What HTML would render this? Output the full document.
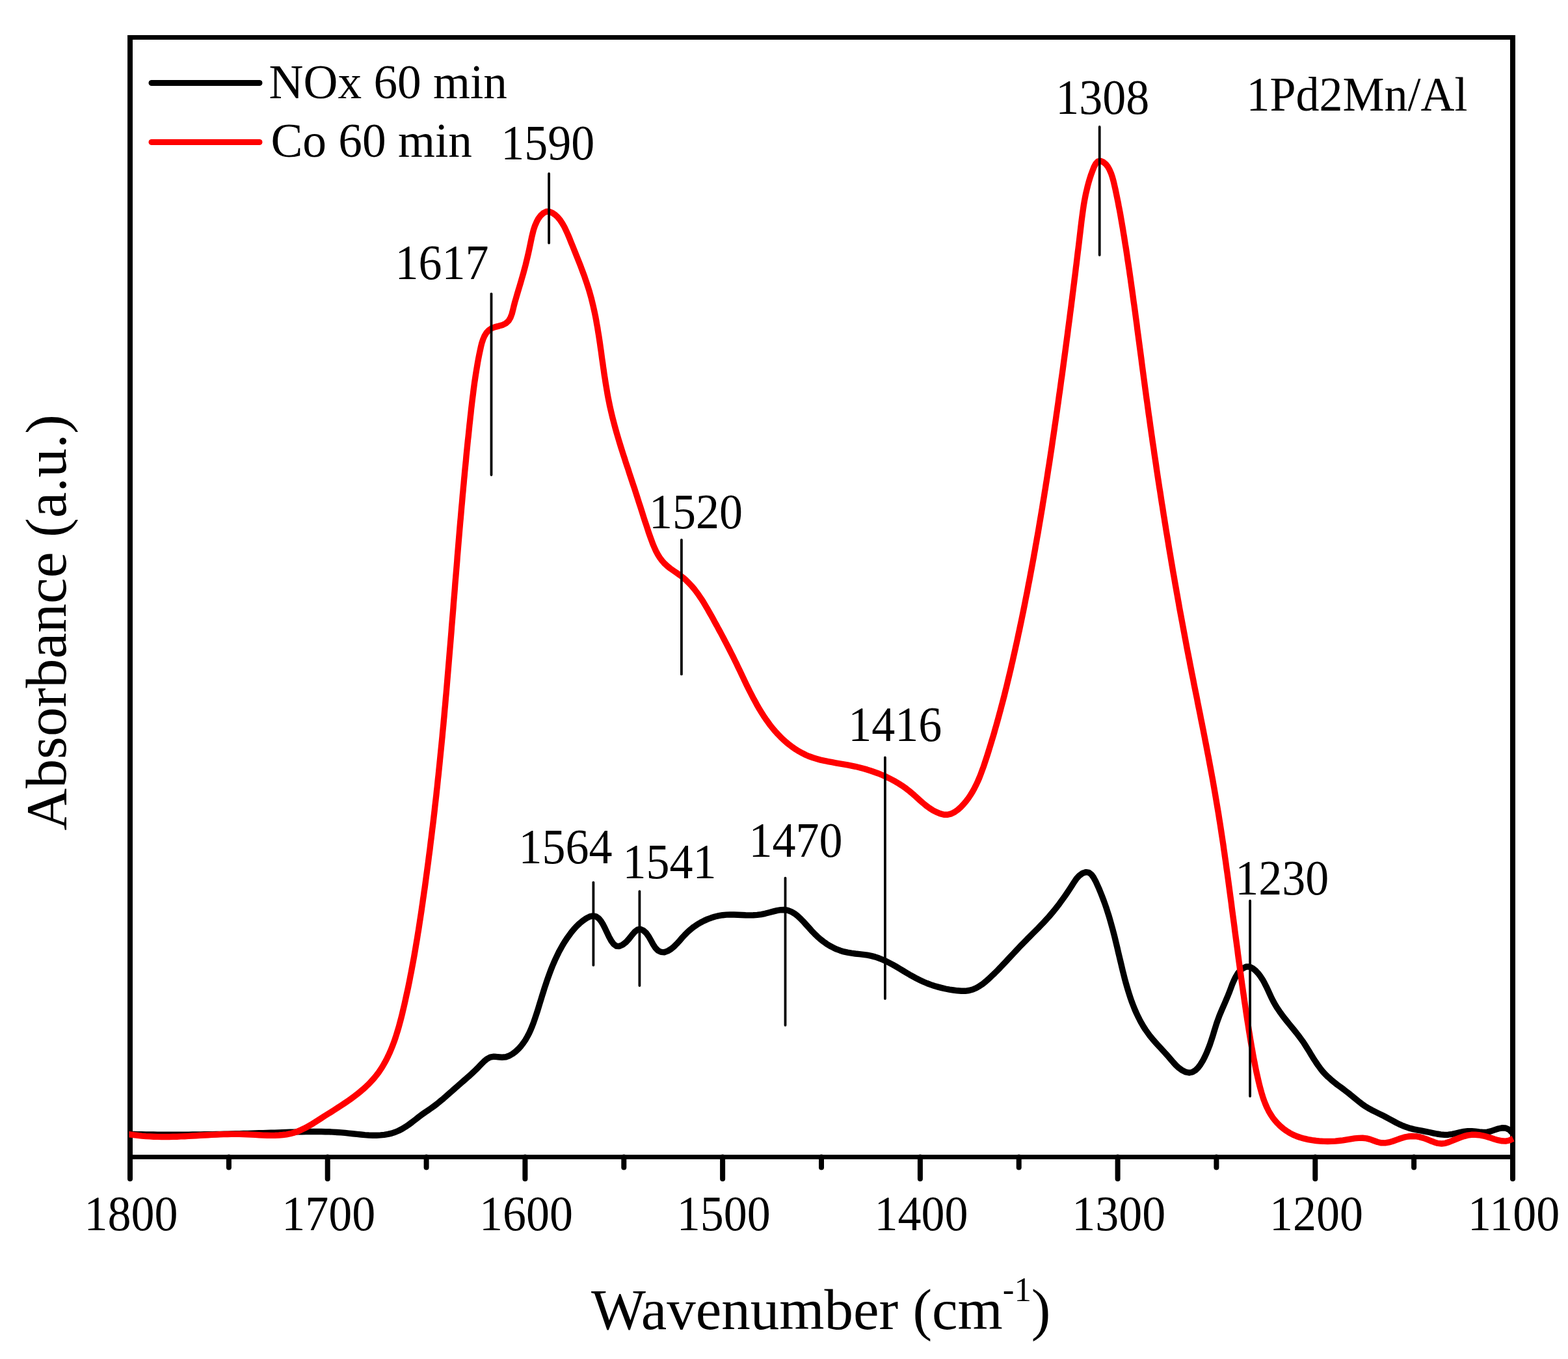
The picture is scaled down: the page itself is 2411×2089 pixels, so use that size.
<!DOCTYPE html>
<html><head><meta charset="utf-8"><title>Absorbance vs Wavenumber</title>
<style>html,body{margin:0;padding:0;background:#fff;overflow:hidden}svg{display:block}</style></head>
<body><svg width="2411" height="2089" viewBox="0 0 2411 2089">
<rect x="0" y="0" width="2411" height="2089" fill="#fff"/>
<g stroke="#000" stroke-width="8" stroke-linecap="round"><line x1="200.0" y1="1778.5" x2="200.0" y2="1812"/><line x1="351.9" y1="1778.5" x2="351.9" y2="1794.5"/><line x1="503.7" y1="1778.5" x2="503.7" y2="1812"/><line x1="655.6" y1="1778.5" x2="655.6" y2="1794.5"/><line x1="807.4" y1="1778.5" x2="807.4" y2="1812"/><line x1="959.3" y1="1778.5" x2="959.3" y2="1794.5"/><line x1="1111.1" y1="1778.5" x2="1111.1" y2="1812"/><line x1="1263.0" y1="1778.5" x2="1263.0" y2="1794.5"/><line x1="1414.9" y1="1778.5" x2="1414.9" y2="1812"/><line x1="1566.7" y1="1778.5" x2="1566.7" y2="1794.5"/><line x1="1718.6" y1="1778.5" x2="1718.6" y2="1812"/><line x1="1870.4" y1="1778.5" x2="1870.4" y2="1794.5"/><line x1="2022.3" y1="1778.5" x2="2022.3" y2="1812"/><line x1="2174.1" y1="1778.5" x2="2174.1" y2="1794.5"/><line x1="2326.0" y1="1778.5" x2="2326.0" y2="1812"/></g>
<path d="M200,54 V1778.5 M2326,54 V1778.5" fill="none" stroke="#000" stroke-width="8"/>
<path d="M196,57.4 H2330 M196,1778.5 H2330" fill="none" stroke="#000" stroke-width="7"/>
<path d="M198.5,1743.4 200.1,1743.4 206.1,1743.5 212.0,1743.7 218.0,1743.8 224.0,1743.9 230.0,1744.0 236.0,1744.0 242.0,1744.1 248.0,1744.1 254.0,1744.2 260.0,1744.2 266.0,1744.2 272.1,1744.2 278.1,1744.2 284.1,1744.1 290.1,1744.1 296.1,1744.0 302.2,1744.0 308.2,1743.9 314.2,1743.8 320.3,1743.7 326.3,1743.6 332.3,1743.5 338.3,1743.4 344.4,1743.3 350.4,1743.1 356.4,1743.0 362.4,1742.8 368.4,1742.7 374.5,1742.5 380.5,1742.4 386.5,1742.2 392.5,1742.0 398.5,1741.8 404.5,1741.7 410.5,1741.5 416.5,1741.3 422.5,1741.1 428.5,1740.9 434.5,1740.7 440.4,1740.5 446.4,1740.3 452.4,1740.1 458.3,1739.9 464.3,1739.8 470.3,1739.6 476.3,1739.5 482.2,1739.5 488.2,1739.5 494.2,1739.5 500.2,1739.7 506.3,1739.8 512.3,1740.1 518.3,1740.5 524.4,1740.9 530.5,1741.4 536.6,1742.1 542.7,1742.7 548.9,1743.4 555.0,1744.0 561.1,1744.6 567.1,1745.0 573.1,1745.2 579.1,1745.2 585.0,1744.9 590.8,1744.3 596.5,1743.4 602.1,1742.1 607.7,1740.3 613.1,1738.0 618.4,1735.3 623.6,1732.1 628.7,1728.6 633.7,1724.9 638.6,1721.1 643.5,1717.3 648.4,1713.6 653.2,1710.1 658.1,1706.8 662.9,1703.5 667.6,1700.1 672.4,1696.5 677.0,1692.7 681.7,1688.8 686.3,1684.8 690.8,1680.8 695.4,1676.8 699.9,1672.7 704.5,1668.7 709.0,1664.8 713.5,1660.9 717.9,1657.0 722.4,1653.1 726.8,1649.0 731.2,1644.9 735.5,1640.6 739.8,1636.1 744.1,1631.7 748.7,1627.8 753.7,1625.2 759.4,1624.2 765.6,1624.7 771.9,1625.2 777.9,1624.7 783.3,1622.8 788.4,1619.8 793.0,1616.2 797.2,1612.3 801.1,1608.0 804.6,1603.4 807.9,1598.6 810.8,1593.5 813.6,1588.2 816.1,1582.7 818.4,1577.1 820.6,1571.3 822.6,1565.5 824.6,1559.6 826.5,1553.7 828.3,1547.8 830.1,1541.9 831.9,1536.1 833.7,1530.2 835.5,1524.5 837.3,1518.7 839.2,1513.0 841.1,1507.3 843.1,1501.7 845.1,1496.1 847.2,1490.5 849.4,1485.0 851.7,1479.6 854.1,1474.2 856.6,1468.9 859.2,1463.6 862.0,1458.4 864.9,1453.2 868.0,1448.1 871.3,1443.1 874.8,1438.2 878.4,1433.3 882.3,1428.5 886.5,1423.9 891.1,1419.5 896.1,1415.3 901.5,1411.6 906.9,1408.9 912.0,1407.9 916.5,1408.8 920.5,1411.6 924.0,1415.8 927.3,1421.1 930.4,1427.2 933.5,1433.7 936.6,1440.3 940.0,1446.4 943.6,1451.2 947.7,1454.2 952.3,1454.5 957.4,1452.3 962.5,1448.3 967.3,1443.0 971.7,1437.4 975.9,1432.5 980.2,1429.1 984.6,1428.2 989.2,1430.2 993.7,1434.3 997.6,1439.7 1001.0,1445.7 1004.3,1451.7 1007.7,1457.0 1011.6,1461.1 1016.3,1463.4 1021.4,1463.7 1026.7,1461.9 1031.7,1458.9 1036.3,1455.1 1040.6,1450.8 1044.7,1446.3 1048.7,1441.7 1052.9,1437.1 1057.2,1432.7 1061.9,1428.6 1066.7,1424.8 1071.8,1421.3 1077.0,1418.2 1082.5,1415.4 1088.0,1412.9 1093.7,1410.8 1099.4,1409.0 1105.3,1407.7 1111.1,1406.7 1117.0,1406.1 1122.8,1405.9 1128.7,1406.0 1134.6,1406.2 1140.5,1406.5 1146.4,1406.8 1152.3,1406.9 1158.3,1406.8 1164.3,1406.4 1170.4,1405.6 1176.5,1404.3 1182.6,1402.7 1188.7,1401.1 1194.7,1399.6 1200.5,1398.7 1206.1,1398.5 1211.4,1399.4 1216.5,1401.3 1221.3,1404.1 1225.9,1407.6 1230.5,1411.7 1234.9,1416.2 1239.2,1421.0 1243.6,1425.8 1247.9,1430.7 1252.4,1435.3 1256.9,1439.7 1261.5,1443.7 1266.3,1447.5 1271.1,1450.9 1276.1,1454.0 1281.3,1456.7 1286.5,1459.2 1292.0,1461.2 1297.6,1462.9 1303.4,1464.2 1309.3,1465.2 1315.4,1466.0 1321.5,1466.6 1327.7,1467.3 1333.7,1468.2 1339.7,1469.4 1345.5,1470.9 1351.2,1472.8 1356.7,1475.0 1362.2,1477.4 1367.5,1480.1 1372.8,1482.9 1378.1,1485.9 1383.3,1489.0 1388.5,1492.1 1393.6,1495.2 1398.8,1498.3 1404.0,1501.2 1409.3,1504.1 1414.7,1506.7 1420.1,1509.2 1425.5,1511.5 1431.1,1513.6 1436.7,1515.5 1442.4,1517.1 1448.2,1518.6 1454.1,1520.0 1460.0,1521.1 1466.0,1522.0 1472.1,1522.8 1478.2,1523.3 1484.2,1523.3 1490.1,1522.5 1495.7,1521.0 1501.0,1518.7 1506.2,1515.7 1511.2,1512.3 1515.9,1508.5 1520.6,1504.4 1525.0,1500.2 1529.4,1496.0 1533.7,1491.7 1537.9,1487.4 1542.0,1483.0 1546.1,1478.7 1550.2,1474.3 1554.2,1470.0 1558.3,1465.6 1562.4,1461.3 1566.5,1456.9 1570.6,1452.6 1574.9,1448.3 1579.1,1443.9 1583.4,1439.6 1587.7,1435.3 1592.0,1431.0 1596.3,1426.7 1600.5,1422.3 1604.7,1417.9 1608.8,1413.5 1612.8,1409.1 1616.6,1404.6 1620.4,1400.1 1624.1,1395.5 1627.7,1390.9 1631.2,1386.1 1634.7,1381.3 1638.1,1376.5 1641.5,1371.5 1644.9,1366.4 1648.3,1361.1 1651.7,1355.8 1655.3,1350.5 1659.7,1345.8 1664.8,1342.2 1670.0,1340.6 1674.5,1341.4 1678.3,1344.4 1681.6,1348.9 1684.6,1354.4 1687.2,1360.1 1689.8,1365.9 1692.2,1371.7 1694.5,1377.5 1696.7,1383.2 1698.8,1389.0 1700.8,1394.7 1702.6,1400.4 1704.5,1406.2 1706.2,1411.9 1707.8,1417.6 1709.4,1423.3 1711.0,1429.1 1712.5,1434.8 1714.0,1440.5 1715.4,1446.3 1716.8,1452.1 1718.2,1457.9 1719.5,1463.7 1720.9,1469.5 1722.3,1475.3 1723.7,1481.2 1725.1,1487.1 1726.5,1493.0 1728.0,1498.9 1729.5,1504.8 1731.1,1510.7 1732.8,1516.6 1734.5,1522.4 1736.3,1528.2 1738.2,1534.0 1740.2,1539.7 1742.4,1545.4 1744.6,1551.0 1747.0,1556.5 1749.5,1561.9 1752.2,1567.2 1755.0,1572.4 1758.0,1577.6 1761.2,1582.6 1764.6,1587.4 1768.1,1592.2 1771.9,1596.8 1775.8,1601.3 1779.8,1605.8 1783.8,1610.2 1787.9,1614.7 1792.0,1619.1 1796.1,1623.7 1800.1,1628.3 1804.1,1633.0 1808.2,1637.5 1812.8,1641.7 1817.9,1645.3 1823.3,1647.9 1828.6,1649.0 1833.5,1648.0 1838.0,1645.3 1842.1,1641.3 1845.9,1636.3 1849.3,1630.8 1852.3,1625.0 1855.0,1619.2 1857.4,1613.4 1859.7,1607.6 1861.7,1601.8 1863.6,1596.0 1865.4,1590.3 1867.1,1584.6 1868.9,1578.9 1870.6,1573.4 1872.5,1568.0 1874.5,1562.6 1876.6,1557.3 1878.8,1552.1 1881.1,1546.8 1883.4,1541.6 1885.7,1536.2 1888.0,1530.7 1890.3,1525.0 1892.5,1519.2 1894.7,1513.2 1897.2,1507.4 1899.9,1501.8 1903.0,1496.6 1906.7,1492.1 1911.1,1488.4 1916.1,1486.0 1921.3,1486.0 1926.1,1488.4 1930.6,1492.0 1934.6,1496.2 1938.1,1500.8 1941.4,1505.8 1944.3,1511.1 1947.1,1516.6 1949.8,1522.3 1952.4,1527.9 1955.0,1533.6 1957.8,1539.1 1960.8,1544.5 1964.0,1549.7 1967.4,1554.7 1970.9,1559.6 1974.5,1564.3 1978.2,1569.0 1981.9,1573.6 1985.7,1578.2 1989.4,1582.8 1993.2,1587.5 1996.8,1592.2 2000.4,1597.0 2003.9,1601.8 2007.2,1606.9 2010.4,1612.0 2013.6,1617.1 2016.7,1622.3 2019.9,1627.4 2023.2,1632.5 2026.6,1637.5 2030.1,1642.3 2033.8,1647.0 2037.8,1651.4 2042.1,1655.6 2046.6,1659.6 2051.2,1663.4 2056.0,1667.2 2060.9,1670.8 2065.8,1674.4 2070.6,1678.1 2075.4,1681.8 2080.0,1685.6 2084.6,1689.4 2089.2,1693.1 2093.9,1696.8 2098.7,1700.2 2103.8,1703.3 2109.0,1706.2 2114.4,1708.9 2119.9,1711.6 2125.3,1714.2 2130.7,1717.0 2136.0,1719.8 2141.2,1722.7 2146.4,1725.5 2151.6,1728.1 2157.0,1730.5 2162.5,1732.6 2168.2,1734.4 2174.1,1735.9 2180.1,1737.1 2186.1,1738.2 2192.1,1739.4 2198.0,1740.5 2203.9,1741.8 2209.7,1743.0 2215.4,1743.9 2221.2,1744.4 2227.0,1744.2 2232.9,1743.3 2238.8,1742.0 2244.8,1740.6 2250.8,1739.4 2256.8,1738.7 2262.7,1738.7 2268.7,1739.3 2274.6,1740.0 2280.5,1740.5 2286.3,1740.3 2292.2,1738.9 2298.0,1736.9 2303.8,1735.0 2309.5,1733.8 2315.1,1734.0 2320.6,1736.5 2326.0,1742.0" fill="none" stroke="#000" stroke-width="9.4" stroke-linejoin="round" stroke-linecap="butt"/>
<path d="M198.5,1743.8 199.8,1743.8 205.9,1744.7 212.0,1745.4 218.1,1746.1 224.2,1746.6 230.2,1746.9 236.2,1747.2 242.2,1747.4 248.2,1747.5 254.2,1747.5 260.2,1747.5 266.2,1747.3 272.1,1747.2 278.1,1746.9 284.0,1746.7 289.9,1746.4 295.9,1746.0 301.8,1745.7 307.8,1745.3 313.7,1745.0 319.7,1744.7 325.7,1744.4 331.7,1744.1 337.7,1743.8 343.7,1743.6 349.7,1743.5 355.7,1743.4 361.8,1743.4 367.9,1743.4 374.0,1743.6 380.1,1743.8 386.3,1744.1 392.4,1744.4 398.6,1744.8 404.7,1745.1 410.8,1745.3 416.9,1745.4 422.9,1745.3 428.9,1745.0 434.7,1744.5 440.5,1743.8 446.2,1742.7 451.8,1741.2 457.2,1739.4 462.5,1737.1 467.8,1734.6 472.9,1731.8 478.1,1728.9 483.2,1725.7 488.3,1722.5 493.4,1719.2 498.5,1715.9 503.7,1712.6 508.9,1709.4 514.1,1706.1 519.3,1702.8 524.5,1699.4 529.6,1696.0 534.6,1692.6 539.6,1689.1 544.5,1685.5 549.3,1681.8 554.0,1678.0 558.5,1674.2 562.9,1670.2 567.2,1666.1 571.2,1661.8 575.1,1657.5 578.8,1652.9 582.3,1648.3 585.6,1643.4 588.7,1638.5 591.6,1633.4 594.4,1628.2 597.0,1622.9 599.5,1617.5 601.8,1612.0 604.0,1606.5 606.1,1600.8 608.1,1595.1 609.9,1589.3 611.7,1583.5 613.4,1577.7 615.0,1571.8 616.6,1565.8 618.1,1559.9 619.5,1553.9 620.9,1548.0 622.3,1542.0 623.6,1536.1 624.9,1530.1 626.2,1524.2 627.5,1518.3 628.7,1512.4 629.9,1506.4 631.0,1500.5 632.2,1494.6 633.3,1488.7 634.4,1482.8 635.5,1476.9 636.6,1471.0 637.6,1465.1 638.6,1459.2 639.6,1453.3 640.6,1447.4 641.6,1441.5 642.5,1435.6 643.5,1429.7 644.4,1423.8 645.3,1417.9 646.2,1412.0 647.1,1406.1 648.0,1400.2 648.8,1394.3 649.7,1388.4 650.5,1382.5 651.4,1376.6 652.2,1370.6 653.1,1364.7 653.9,1358.8 654.7,1352.9 655.5,1346.9 656.3,1341.0 657.1,1335.0 657.9,1329.1 658.7,1323.2 659.4,1317.2 660.2,1311.3 661.0,1305.3 661.7,1299.3 662.4,1293.4 663.2,1287.4 663.9,1281.5 664.6,1275.5 665.4,1269.5 666.1,1263.6 666.8,1257.6 667.5,1251.6 668.2,1245.6 668.8,1239.7 669.5,1233.7 670.2,1227.7 670.9,1221.7 671.5,1215.7 672.2,1209.8 672.8,1203.8 673.4,1197.8 674.1,1191.8 674.7,1185.8 675.3,1179.8 675.9,1173.9 676.5,1167.9 677.1,1161.9 677.7,1155.9 678.3,1149.9 678.9,1143.9 679.5,1137.9 680.1,1131.9 680.6,1125.9 681.2,1119.9 681.8,1114.0 682.3,1108.0 682.9,1102.0 683.4,1096.0 683.9,1090.0 684.5,1084.0 685.0,1078.0 685.5,1072.0 686.1,1066.0 686.6,1060.0 687.1,1054.0 687.6,1048.0 688.1,1042.0 688.6,1036.0 689.1,1030.1 689.6,1024.1 690.1,1018.1 690.6,1012.1 691.1,1006.1 691.6,1000.1 692.1,994.1 692.6,988.1 693.1,982.1 693.6,976.1 694.1,970.1 694.5,964.1 695.0,958.1 695.5,952.1 696.0,946.2 696.5,940.2 697.0,934.2 697.4,928.2 697.9,922.2 698.4,916.2 698.9,910.2 699.4,904.2 699.8,898.2 700.3,892.2 700.8,886.3 701.3,880.3 701.8,874.3 702.3,868.3 702.8,862.3 703.2,856.3 703.7,850.3 704.2,844.3 704.7,838.4 705.2,832.4 705.7,826.4 706.2,820.4 706.7,814.4 707.2,808.5 707.7,802.5 708.3,796.5 708.8,790.5 709.3,784.5 709.8,778.6 710.4,772.6 710.9,766.6 711.4,760.6 712.0,754.7 712.5,748.7 713.1,742.7 713.6,736.7 714.2,730.8 714.7,724.8 715.3,718.8 715.9,712.9 716.5,706.9 717.0,700.9 717.6,695.0 718.2,689.0 718.8,683.0 719.4,677.1 720.1,671.1 720.7,665.2 721.3,659.2 721.9,653.2 722.6,647.3 723.2,641.3 723.9,635.4 724.5,629.4 725.2,623.5 725.9,617.5 726.6,611.6 727.4,605.6 728.1,599.6 728.9,593.7 729.7,587.7 730.6,581.7 731.5,575.7 732.5,569.6 733.5,563.6 734.5,557.6 735.6,551.5 736.8,545.4 738.1,539.3 739.4,533.2 740.9,527.2 742.8,521.5 745.1,516.2 748.0,511.5 751.6,507.6 756.0,504.6 761.3,502.6 767.3,501.1 773.1,499.4 778.1,496.8 782.1,493.1 785.0,488.2 787.1,482.5 788.7,476.3 790.2,470.1 791.8,464.0 793.5,458.2 795.2,452.4 796.9,446.7 798.6,441.0 800.3,435.4 801.9,429.8 803.5,424.2 805.1,418.6 806.6,413.0 808.1,407.4 809.5,401.6 810.9,395.8 812.3,389.9 813.6,383.9 814.9,377.8 816.2,371.5 817.5,365.2 819.0,358.9 820.6,352.7 822.6,346.8 825.0,341.3 827.8,336.1 831.2,331.5 835.3,327.7 839.8,325.3 844.7,325.3 849.5,327.3 853.9,330.4 857.9,334.2 861.5,338.6 864.8,343.6 867.9,349.0 870.6,354.7 873.3,360.6 875.8,366.6 878.2,372.7 880.6,378.6 883.0,384.5 885.3,390.3 887.6,396.0 889.9,401.7 892.1,407.3 894.2,412.9 896.3,418.5 898.4,424.1 900.3,429.7 902.2,435.2 904.0,440.8 905.8,446.4 907.4,452.0 909.0,457.7 910.4,463.4 911.8,469.1 913.1,474.9 914.4,480.7 915.6,486.5 916.7,492.4 917.7,498.2 918.8,504.2 919.7,510.1 920.7,516.0 921.6,522.0 922.5,528.0 923.3,533.9 924.2,539.9 925.0,546.0 925.8,552.0 926.7,558.0 927.5,564.0 928.4,570.0 929.2,576.0 930.2,582.0 931.1,588.0 932.1,594.0 933.1,600.0 934.1,605.9 935.2,611.9 936.4,617.8 937.6,623.7 938.9,629.6 940.3,635.5 941.7,641.3 943.2,647.1 944.7,652.9 946.3,658.7 947.9,664.5 949.6,670.3 951.3,676.0 953.0,681.7 954.8,687.5 956.6,693.2 958.4,698.9 960.3,704.6 962.1,710.3 964.0,716.0 965.9,721.6 967.7,727.3 969.6,733.0 971.5,738.7 973.4,744.4 975.3,750.0 977.1,755.7 979.0,761.4 980.8,767.1 982.6,772.8 984.5,778.5 986.3,784.2 988.1,789.9 989.9,795.7 991.8,801.4 993.7,807.1 995.6,812.9 997.5,818.7 999.5,824.4 1001.6,830.2 1003.7,835.9 1006.1,841.5 1008.6,847.0 1011.4,852.2 1014.5,857.2 1018.0,861.9 1021.9,866.3 1026.2,870.3 1030.9,874.0 1035.9,877.5 1040.9,880.9 1045.8,884.4 1050.6,888.1 1055.1,892.1 1059.4,896.3 1063.4,900.7 1067.3,905.2 1071.0,910.0 1074.5,914.8 1077.9,919.8 1081.2,924.9 1084.3,930.1 1087.4,935.3 1090.4,940.6 1093.4,945.8 1096.3,951.1 1099.2,956.4 1102.1,961.6 1104.9,966.9 1107.8,972.1 1110.6,977.4 1113.4,982.7 1116.1,987.9 1118.9,993.2 1121.6,998.5 1124.3,1003.8 1127.0,1009.2 1129.6,1014.5 1132.3,1019.9 1134.9,1025.4 1137.5,1030.8 1140.1,1036.3 1142.7,1041.7 1145.3,1047.2 1147.9,1052.7 1150.6,1058.1 1153.3,1063.5 1156.1,1068.9 1158.9,1074.3 1161.8,1079.6 1164.7,1084.9 1167.7,1090.1 1170.9,1095.2 1174.1,1100.3 1177.4,1105.2 1180.9,1110.1 1184.4,1114.9 1188.2,1119.6 1192.0,1124.1 1196.0,1128.5 1200.2,1132.8 1204.5,1137.0 1209.0,1141.0 1213.7,1144.8 1218.5,1148.4 1223.4,1151.8 1228.5,1154.9 1233.8,1157.8 1239.1,1160.5 1244.6,1162.8 1250.2,1164.8 1255.9,1166.5 1261.6,1168.1 1267.5,1169.4 1273.4,1170.6 1279.4,1171.7 1285.3,1172.8 1291.3,1173.8 1297.3,1174.8 1303.3,1175.9 1309.3,1177.1 1315.3,1178.3 1321.2,1179.7 1327.0,1181.3 1332.9,1182.9 1338.6,1184.7 1344.3,1186.7 1349.9,1188.7 1355.5,1191.0 1361.0,1193.3 1366.4,1195.9 1371.7,1198.6 1376.9,1201.4 1382.0,1204.5 1387.0,1207.7 1391.9,1211.1 1396.6,1214.7 1401.3,1218.5 1405.8,1222.4 1410.3,1226.5 1414.7,1230.5 1419.3,1234.5 1424.0,1238.4 1428.9,1242.0 1434.0,1245.3 1439.5,1248.2 1445.4,1250.6 1451.4,1252.2 1457.2,1252.3 1462.7,1250.9 1467.9,1248.3 1472.8,1244.8 1477.3,1240.7 1481.5,1236.3 1485.4,1231.7 1489.0,1227.0 1492.3,1222.0 1495.4,1217.0 1498.3,1211.7 1501.0,1206.4 1503.5,1201.0 1505.9,1195.5 1508.1,1189.9 1510.2,1184.2 1512.3,1178.5 1514.2,1172.8 1516.1,1167.0 1518.0,1161.2 1519.8,1155.5 1521.6,1149.7 1523.4,1143.9 1525.1,1138.1 1526.9,1132.3 1528.6,1126.6 1530.2,1120.8 1531.9,1115.0 1533.5,1109.2 1535.1,1103.4 1536.7,1097.6 1538.3,1091.8 1539.8,1085.9 1541.4,1080.1 1542.9,1074.3 1544.4,1068.5 1545.8,1062.7 1547.3,1056.8 1548.7,1051.0 1550.1,1045.2 1551.5,1039.3 1552.9,1033.5 1554.3,1027.7 1555.6,1021.8 1557.0,1016.0 1558.3,1010.1 1559.6,1004.3 1560.9,998.4 1562.2,992.5 1563.5,986.7 1564.8,980.8 1566.0,974.9 1567.3,969.1 1568.5,963.2 1569.8,957.3 1571.0,951.4 1572.2,945.6 1573.4,939.7 1574.6,933.8 1575.8,927.9 1576.9,922.0 1578.1,916.1 1579.3,910.2 1580.4,904.3 1581.5,898.4 1582.7,892.5 1583.8,886.6 1584.9,880.7 1586.0,874.8 1587.1,868.9 1588.2,863.0 1589.3,857.1 1590.3,851.2 1591.4,845.3 1592.4,839.3 1593.5,833.4 1594.5,827.5 1595.6,821.6 1596.6,815.7 1597.6,809.7 1598.6,803.8 1599.6,797.9 1600.6,792.0 1601.6,786.0 1602.6,780.1 1603.5,774.2 1604.5,768.2 1605.5,762.3 1606.4,756.4 1607.4,750.4 1608.3,744.5 1609.3,738.5 1610.2,732.6 1611.1,726.7 1612.0,720.7 1613.0,714.8 1613.9,708.8 1614.8,702.9 1615.7,696.9 1616.6,691.0 1617.5,685.1 1618.3,679.1 1619.2,673.2 1620.1,667.2 1621.0,661.3 1621.8,655.3 1622.7,649.4 1623.6,643.4 1624.4,637.5 1625.3,631.5 1626.1,625.6 1627.0,619.6 1627.8,613.7 1628.6,607.7 1629.5,601.8 1630.3,595.8 1631.1,589.9 1631.9,583.9 1632.8,578.0 1633.6,572.0 1634.4,566.1 1635.2,560.1 1636.0,554.2 1636.8,548.2 1637.6,542.3 1638.4,536.3 1639.2,530.4 1640.0,524.4 1640.8,518.4 1641.6,512.5 1642.3,506.5 1643.1,500.6 1643.9,494.6 1644.7,488.7 1645.4,482.7 1646.2,476.8 1647.0,470.8 1647.7,464.9 1648.5,458.9 1649.2,453.0 1650.0,447.0 1650.7,441.0 1651.5,435.1 1652.2,429.1 1653.0,423.2 1653.7,417.2 1654.4,411.2 1655.2,405.3 1655.9,399.3 1656.6,393.4 1657.3,387.4 1658.1,381.4 1658.8,375.5 1659.5,369.5 1660.2,363.5 1660.9,357.6 1661.6,351.6 1662.3,345.6 1663.0,339.7 1663.8,333.7 1664.6,327.7 1665.4,321.8 1666.3,315.8 1667.3,309.8 1668.4,303.9 1669.6,297.9 1671.0,292.0 1672.4,286.1 1674.0,280.1 1675.8,274.2 1677.7,268.3 1679.9,262.4 1682.2,256.5 1684.9,251.5 1688.2,248.1 1692.2,247.4 1696.4,249.1 1700.1,252.1 1703.3,256.0 1706.0,260.8 1708.4,266.3 1710.4,272.3 1712.2,278.7 1713.7,285.2 1715.2,291.7 1716.5,298.1 1717.8,304.4 1719.1,310.6 1720.2,316.7 1721.4,322.6 1722.5,328.6 1723.5,334.4 1724.5,340.3 1725.5,346.1 1726.5,351.8 1727.4,357.6 1728.4,363.4 1729.3,369.3 1730.2,375.1 1731.2,380.9 1732.1,386.8 1733.0,392.6 1733.8,398.5 1734.7,404.3 1735.6,410.2 1736.5,416.1 1737.3,422.0 1738.2,427.9 1739.0,433.8 1739.8,439.7 1740.7,445.7 1741.5,451.6 1742.3,457.5 1743.1,463.5 1744.0,469.4 1744.8,475.4 1745.6,481.3 1746.4,487.3 1747.2,493.3 1748.0,499.2 1748.7,505.2 1749.5,511.2 1750.3,517.1 1751.1,523.1 1751.9,529.1 1752.7,535.1 1753.5,541.1 1754.3,547.1 1755.1,553.1 1755.8,559.0 1756.6,565.0 1757.4,571.0 1758.2,577.0 1759.0,583.0 1759.8,589.0 1760.6,595.0 1761.4,600.9 1762.2,606.9 1763.0,612.9 1763.9,618.9 1764.7,624.8 1765.5,630.8 1766.3,636.8 1767.2,642.8 1768.0,648.7 1768.8,654.7 1769.7,660.6 1770.5,666.6 1771.4,672.6 1772.2,678.5 1773.1,684.5 1774.0,690.4 1774.8,696.4 1775.7,702.3 1776.6,708.3 1777.5,714.2 1778.3,720.2 1779.2,726.1 1780.1,732.1 1781.0,738.0 1781.9,743.9 1782.8,749.9 1783.8,755.8 1784.7,761.8 1785.6,767.7 1786.5,773.6 1787.5,779.5 1788.4,785.5 1789.3,791.4 1790.3,797.3 1791.2,803.3 1792.2,809.2 1793.1,815.1 1794.1,821.0 1795.1,826.9 1796.1,832.9 1797.0,838.8 1798.0,844.7 1799.0,850.6 1800.0,856.5 1801.0,862.5 1802.0,868.4 1803.0,874.3 1804.0,880.2 1805.1,886.1 1806.1,892.0 1807.1,897.9 1808.2,903.8 1809.2,909.7 1810.3,915.6 1811.3,921.5 1812.4,927.4 1813.4,933.4 1814.5,939.3 1815.6,945.2 1816.7,951.1 1817.8,957.0 1818.9,962.9 1820.0,968.8 1821.1,974.7 1822.2,980.6 1823.3,986.5 1824.4,992.4 1825.5,998.3 1826.7,1004.2 1827.8,1010.0 1829.0,1015.9 1830.1,1021.8 1831.3,1027.7 1832.4,1033.6 1833.6,1039.5 1834.8,1045.4 1835.9,1051.3 1837.1,1057.2 1838.3,1063.1 1839.5,1069.0 1840.7,1074.9 1841.8,1080.8 1843.0,1086.7 1844.2,1092.6 1845.4,1098.5 1846.5,1104.4 1847.7,1110.3 1848.9,1116.2 1850.1,1122.1 1851.2,1128.0 1852.4,1133.9 1853.5,1139.8 1854.7,1145.7 1855.8,1151.6 1856.9,1157.5 1858.1,1163.4 1859.2,1169.3 1860.3,1175.3 1861.4,1181.2 1862.5,1187.1 1863.6,1193.0 1864.7,1198.9 1865.7,1204.8 1866.8,1210.8 1867.8,1216.7 1868.8,1222.6 1869.8,1228.5 1870.8,1234.5 1871.8,1240.4 1872.8,1246.3 1873.8,1252.3 1874.7,1258.2 1875.7,1264.2 1876.6,1270.1 1877.5,1276.0 1878.4,1282.0 1879.3,1287.9 1880.2,1293.9 1881.1,1299.8 1881.9,1305.8 1882.8,1311.7 1883.6,1317.7 1884.5,1323.6 1885.3,1329.6 1886.1,1335.6 1887.0,1341.5 1887.8,1347.5 1888.6,1353.4 1889.4,1359.4 1890.2,1365.3 1891.0,1371.3 1891.8,1377.3 1892.6,1383.2 1893.4,1389.2 1894.1,1395.1 1894.9,1401.1 1895.7,1407.1 1896.5,1413.0 1897.3,1419.0 1898.1,1424.9 1898.8,1430.9 1899.6,1436.8 1900.4,1442.8 1901.2,1448.7 1902.0,1454.7 1902.8,1460.6 1903.5,1466.6 1904.3,1472.5 1905.1,1478.5 1905.9,1484.4 1906.7,1490.4 1907.6,1496.3 1908.4,1502.3 1909.2,1508.2 1910.0,1514.1 1910.9,1520.1 1911.7,1526.0 1912.6,1531.9 1913.4,1537.9 1914.3,1543.8 1915.2,1549.7 1916.0,1555.6 1916.9,1561.6 1917.8,1567.5 1918.8,1573.4 1919.7,1579.3 1920.6,1585.2 1921.6,1591.1 1922.5,1597.0 1923.5,1602.9 1924.5,1608.8 1925.6,1614.7 1926.6,1620.6 1927.7,1626.5 1928.9,1632.4 1930.0,1638.3 1931.2,1644.3 1932.5,1650.2 1933.8,1656.1 1935.2,1662.1 1936.6,1668.0 1938.2,1673.9 1939.8,1679.8 1941.6,1685.7 1943.5,1691.4 1945.7,1697.0 1948.1,1702.5 1950.7,1707.8 1953.7,1712.9 1956.9,1717.8 1960.5,1722.4 1964.4,1726.8 1968.5,1730.9 1973.0,1734.7 1977.7,1738.1 1982.7,1741.3 1988.0,1744.1 1993.5,1746.5 1999.3,1748.5 2005.3,1750.2 2011.4,1751.6 2017.5,1752.7 2023.7,1753.5 2029.7,1754.1 2035.6,1754.4 2041.5,1754.5 2047.4,1754.4 2053.2,1754.1 2059.0,1753.5 2064.9,1752.8 2070.9,1751.8 2077.0,1750.8 2083.0,1749.9 2089.1,1749.4 2095.1,1749.3 2101.1,1749.9 2106.9,1751.4 2112.6,1753.5 2118.3,1755.5 2124.0,1756.8 2129.8,1756.9 2135.7,1755.9 2141.6,1754.2 2147.5,1752.1 2153.4,1750.0 2159.2,1748.2 2165.1,1747.0 2170.8,1746.5 2176.6,1746.7 2182.3,1747.6 2188.0,1749.1 2193.7,1751.1 2199.4,1753.5 2205.2,1755.7 2210.9,1757.4 2216.6,1758.0 2222.4,1757.3 2228.1,1755.5 2233.8,1753.2 2239.5,1750.8 2245.2,1748.6 2251.0,1746.6 2256.7,1745.1 2262.5,1744.3 2268.4,1744.2 2274.2,1744.7 2280.1,1745.8 2286.0,1747.3 2291.8,1749.1 2297.7,1751.0 2303.5,1752.7 2309.3,1753.8 2315.0,1754.1 2320.8,1753.0 2326.6,1750.3" fill="none" stroke="#f00" stroke-width="9.4" stroke-linejoin="round" stroke-linecap="butt"/>
<line x1="233" y1="127.5" x2="399" y2="127.5" stroke="#000" stroke-width="9" stroke-linecap="round"/>
<line x1="233" y1="218.5" x2="399" y2="218.5" stroke="#f00" stroke-width="9" stroke-linecap="round"/>
<g stroke="#000" stroke-width="3.8" stroke-linecap="round"><line x1="844.1" y1="267" x2="844.1" y2="373.6"/><line x1="755.5" y1="451.6" x2="755.5" y2="730"/><line x1="1690.7" y1="195" x2="1690.7" y2="392"/><line x1="1047.9" y1="829.8" x2="1047.9" y2="1036.4"/><line x1="1360.9" y1="1164.5" x2="1360.9" y2="1535"/><line x1="912.4" y1="1356.5" x2="912.4" y2="1483.7"/><line x1="983.4" y1="1370.1" x2="983.4" y2="1515"/><line x1="1207.5" y1="1349.7" x2="1207.5" y2="1575.9"/><line x1="1922.1" y1="1384.7" x2="1922.1" y2="1685"/></g>
<g font-family="'Liberation Serif', 'Times New Roman', serif" fill="#000"><text x="413.6" y="150.7" font-size="73.3" text-anchor="start" transform="translate(0 150.7) scale(1 1.02) translate(0 -150.7)">NOx 60 min</text><text x="416.5" y="241.5" font-size="73.3" text-anchor="start" transform="translate(0 241.5) scale(1 1.02) translate(0 -241.5)">Co 60 min</text><text x="770.2" y="245.3" font-size="72" text-anchor="start" transform="translate(0 245.3) scale(1 1.06) translate(0 -245.3)">1590</text><text x="607.4" y="429.3" font-size="72" text-anchor="start" transform="translate(0 429.3) scale(1 1.06) translate(0 -429.3)">1617</text><text x="1623.3" y="174.6" font-size="72" text-anchor="start" transform="translate(0 174.6) scale(1 1.06) translate(0 -174.6)">1308</text><text x="998.1" y="812.3" font-size="72" text-anchor="start" transform="translate(0 812.3) scale(1 1.06) translate(0 -812.3)">1520</text><text x="1304.3" y="1139.0" font-size="72" text-anchor="start" transform="translate(0 1139.0) scale(1 1.06) translate(0 -1139.0)">1416</text><text x="797.5" y="1327.0" font-size="72" text-anchor="start" transform="translate(0 1327.0) scale(1 1.06) translate(0 -1327.0)">1564</text><text x="957.6" y="1350.5" font-size="72" text-anchor="start" transform="translate(0 1350.5) scale(1 1.06) translate(0 -1350.5)">1541</text><text x="1151.6" y="1317.4" font-size="72" text-anchor="start" transform="translate(0 1317.4) scale(1 1.06) translate(0 -1317.4)">1470</text><text x="1899.3" y="1374.7" font-size="72" text-anchor="start" transform="translate(0 1374.7) scale(1 1.06) translate(0 -1374.7)">1230</text><text x="1916.4" y="170.0" font-size="72" text-anchor="start" transform="translate(0 170.0) scale(1 1.04) translate(0 -170.0)">1Pd2Mn/Al</text><text x="201.6" y="1891.0" font-size="72" text-anchor="middle" transform="translate(0 1891.0) scale(1 1.06) translate(0 -1891.0)">1800</text><text x="505.3" y="1891.0" font-size="72" text-anchor="middle" transform="translate(0 1891.0) scale(1 1.06) translate(0 -1891.0)">1700</text><text x="809.0" y="1891.0" font-size="72" text-anchor="middle" transform="translate(0 1891.0) scale(1 1.06) translate(0 -1891.0)">1600</text><text x="1112.7" y="1891.0" font-size="72" text-anchor="middle" transform="translate(0 1891.0) scale(1 1.06) translate(0 -1891.0)">1500</text><text x="1416.5" y="1891.0" font-size="72" text-anchor="middle" transform="translate(0 1891.0) scale(1 1.06) translate(0 -1891.0)">1400</text><text x="1720.2" y="1891.0" font-size="72" text-anchor="middle" transform="translate(0 1891.0) scale(1 1.06) translate(0 -1891.0)">1300</text><text x="2023.9" y="1891.0" font-size="72" text-anchor="middle" transform="translate(0 1891.0) scale(1 1.06) translate(0 -1891.0)">1200</text><text x="2327.6" y="1891.0" font-size="72" text-anchor="middle" transform="translate(0 1891.0) scale(1 1.06) translate(0 -1891.0)">1100</text><text x="908.9" y="2042.7" font-size="89">Wavenumber (cm</text><text x="1541.8" y="2000" font-size="53">-1</text><text x="1585.8" y="2042.7" font-size="89">)</text><text transform="translate(101 1276.4) rotate(-90)" x="0" y="0" font-size="89.6">Absorbance (a.u.)</text></g>
</svg></body></html>
